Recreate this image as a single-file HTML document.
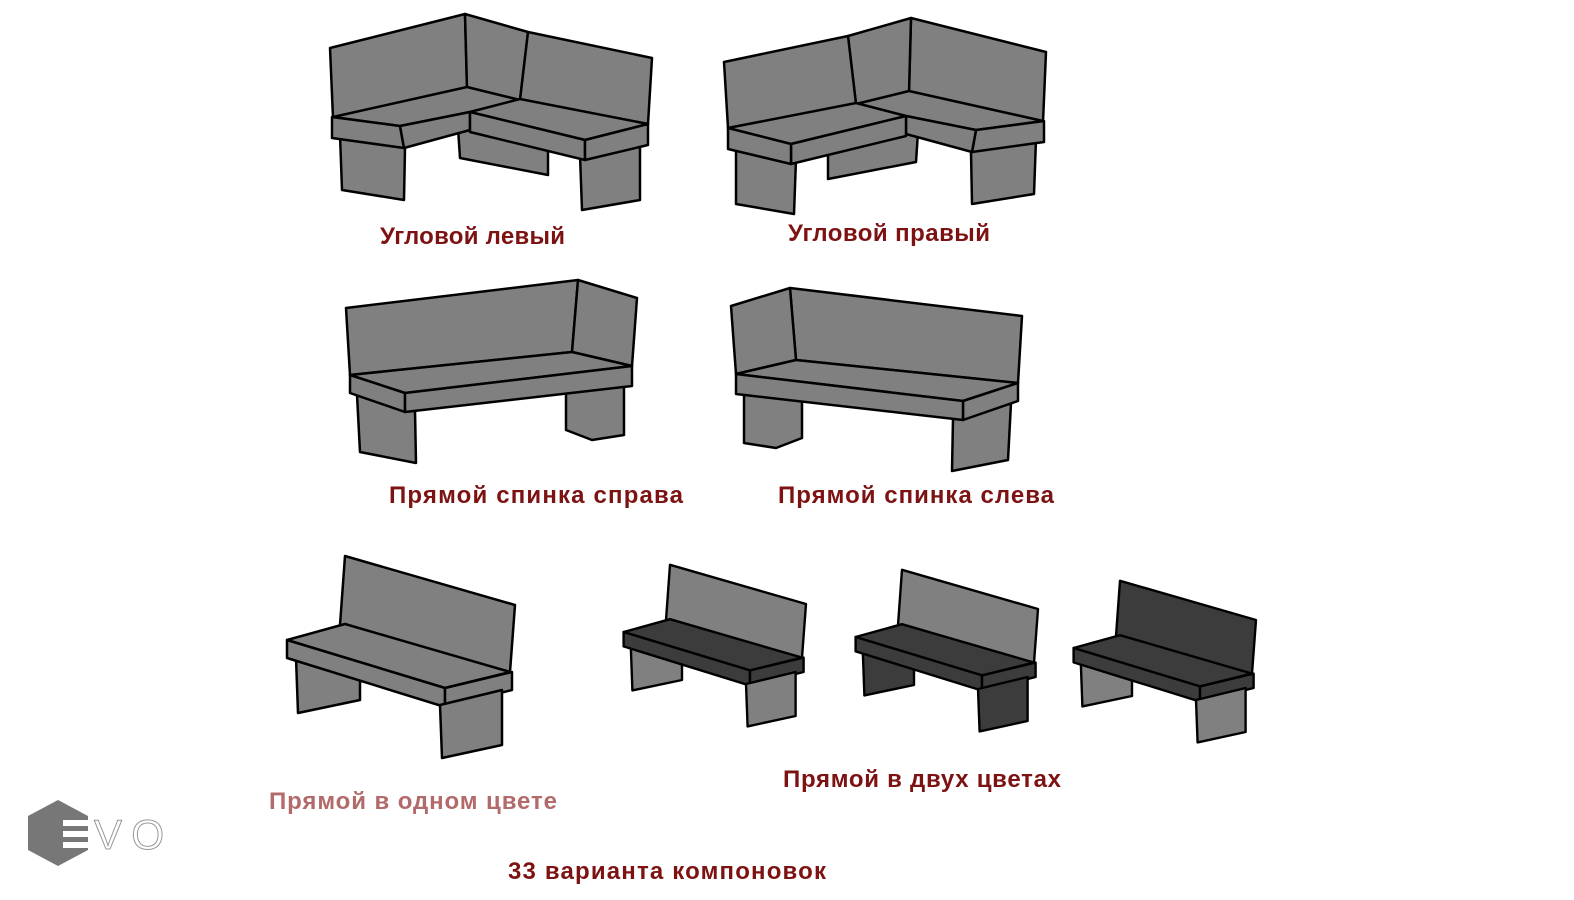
<!DOCTYPE html>
<html><head><meta charset="utf-8"><style>
html,body{margin:0;padding:0;background:#fff;width:1574px;height:900px;overflow:hidden}
svg{display:block}
text{font-family:"Liberation Sans",sans-serif;font-weight:bold;font-size:24px;fill:#7d1212}
</style></head><body>
<svg width="1574" height="900" viewBox="0 0 1574 900" xmlns="http://www.w3.org/2000/svg">
<defs>
<g id="b1" stroke="#000" stroke-width="2.5" stroke-linejoin="round" fill="#808080">
  <polygon points="340,135 405,148 404,200 342,190"/>
  <polygon points="458,128 548,150 548,175 460,158"/>
  <polygon points="580,155 640,146 640,200 582,210"/>
  <polygon points="330,48 465,14 467,88 333,118"/>
  <polygon points="465,14 528,32 520,100 467,88"/>
  <polygon points="528,32 652,58 648,124 520,100"/>
  <polygon points="333,117 467,87 520,100 470,112 400,126"/>
  <polygon points="332,117 400,126 404,148 332,138"/>
  <polygon points="400,126 470,112 470,130 404,148"/>
  <polygon points="470,112 520,99 648,124 585,140"/>
  <polygon points="470,112 585,140 585,160 470,132"/>
  <polygon points="585,140 648,124 648,145 585,160"/>
</g>
<g id="b3" stroke="#000" stroke-width="2.5" stroke-linejoin="round" fill="#808080">
  <polygon points="357,395 415,410 416,463 360,452"/>
  <polygon points="566,388 624,384 624,435 592,440 566,430"/>
  <polygon points="346,308 578,280 572,352 350,375"/>
  <polygon points="578,280 637,298 632,366 572,352"/>
  <polygon points="350,375 572,352 632,366 405,393"/>
  <polygon points="350,375 405,393 405,412 350,393"/>
  <polygon points="405,393 632,366 632,386 405,412"/>
</g>
</defs>
<use href="#b1"/>
<g transform="translate(1376,4) scale(-1,1)"><use href="#b1"/></g>
<use href="#b3"/>
<g transform="translate(1368,8) scale(-1,1)"><use href="#b3"/></g>

<g stroke="#000" stroke-width="2.5" stroke-linejoin="round">
  <polygon fill="#808080" points="296,658 360,678 360,700 298,713"/>
  <polygon fill="#808080" points="345,556 515,605 510,672 340,625"/>
  <polygon fill="#808080" points="287,640 345,624 510,672 445,688"/>
  <polygon fill="#808080" points="287,640 445,688 445,707 287,658"/>
  <polygon fill="#808080" points="445,688 512,672 512,690 445,707"/>
  <polygon fill="#808080" points="440,705 502,690 502,745 442,758"/>
</g>
<g transform="translate(394,120) scale(0.8)" stroke="#000" stroke-width="3" stroke-linejoin="round">
  <polygon fill="#808080" points="296,658 360,678 360,700 298,713"/>
  <polygon fill="#808080" points="345,556 515,605 510,672 340,625"/>
  <polygon fill="#3c3c3c" points="287,640 345,624 510,672 445,688"/>
  <polygon fill="#3c3c3c" points="287,640 445,688 445,707 287,658"/>
  <polygon fill="#3c3c3c" points="445,688 512,672 512,690 445,707"/>
  <polygon fill="#808080" points="440,705 502,690 502,745 442,758"/>
</g>
<g transform="translate(626,125) scale(0.8)" stroke="#000" stroke-width="3" stroke-linejoin="round">
  <polygon fill="#3c3c3c" points="296,658 360,678 360,700 298,713"/>
  <polygon fill="#808080" points="345,556 515,605 510,672 340,625"/>
  <polygon fill="#3c3c3c" points="287,640 345,624 510,672 445,688"/>
  <polygon fill="#3c3c3c" points="287,640 445,688 445,707 287,658"/>
  <polygon fill="#3c3c3c" points="445,688 512,672 512,690 445,707"/>
  <polygon fill="#3c3c3c" points="440,705 502,690 502,745 442,758"/>
</g>
<g transform="translate(844,136) scale(0.8)" stroke="#000" stroke-width="3" stroke-linejoin="round">
  <polygon fill="#808080" points="296,658 360,678 360,700 298,713"/>
  <polygon fill="#3c3c3c" points="345,556 515,605 510,672 340,625"/>
  <polygon fill="#3c3c3c" points="287,640 345,624 510,672 445,688"/>
  <polygon fill="#3c3c3c" points="287,640 445,688 445,707 287,658"/>
  <polygon fill="#3c3c3c" points="445,688 512,672 512,690 445,707"/>
  <polygon fill="#808080" points="440,705 502,690 502,745 442,758"/>
</g>

<text x="380" y="244" textLength="185">Угловой левый</text>
<text x="788" y="241" textLength="202">Угловой правый</text>
<text x="389" y="503" textLength="294">Прямой спинка справа</text>
<text x="778" y="503" textLength="276">Прямой спинка слева</text>
<text x="269" y="809" textLength="288" style="fill:#b36a6a">Прямой в одном цвете</text>
<text x="783" y="787" textLength="278">Прямой в двух цветах</text>
<text x="508" y="879" textLength="318">33 варианта компоновок</text>

<polygon points="58,800 88,816 88,850 58,866 28,850 28,816" fill="#777"/>
<rect x="63" y="820" width="30" height="6" fill="#fff"/>
<rect x="63" y="831" width="30" height="6" fill="#fff"/>
<rect x="63" y="842" width="30" height="6" fill="#fff"/>
<text x="94" y="849" style="fill:#fff;stroke:#999;stroke-width:1;font-weight:normal;font-size:42px" textLength="70">VO</text>
</svg>
</body></html>
